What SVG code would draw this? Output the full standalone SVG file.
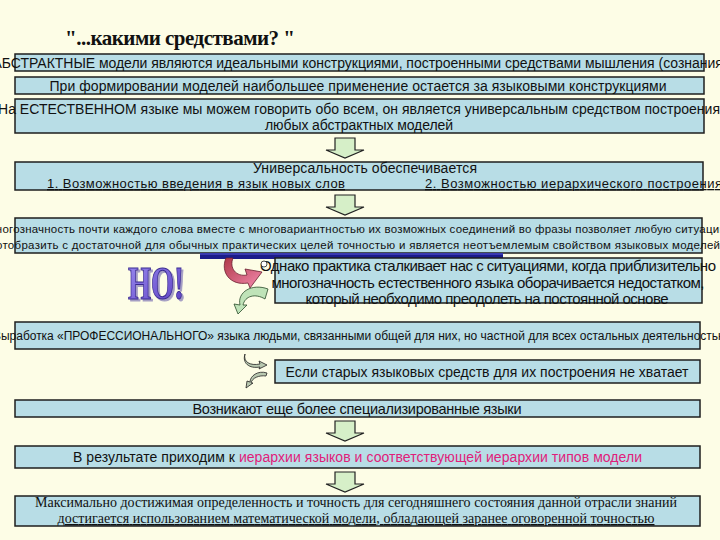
<svg xmlns="http://www.w3.org/2000/svg" xmlns:xlink="http://www.w3.org/1999/xlink" width="720" height="540" viewBox="0 0 720 540">
<style>
.box{fill:#b8dde6;stroke:#1e1e1e;stroke-width:1.5}
.t{font-family:"Liberation Sans",Arial,sans-serif;fill:#111}
.s{font-family:"Liberation Serif","Times New Roman",serif;fill:#111}
.arr{fill:#d6efc8;stroke:#222;stroke-width:1.2}
</style>
<defs>
<path id="darrow" d="M-10,0 H10 V12 H19 L0,20 L-19,12 H-10 Z"/>
<linearGradient id="noG" x1="0" y1="0" x2="1" y2="1">
<stop offset="0" stop-color="#9a8cf0"/><stop offset="1" stop-color="#5a3cc0"/>
</linearGradient>
<linearGradient id="redG" x1="0" y1="0" x2="1" y2="1">
<stop offset="0" stop-color="#b03848"/><stop offset="1" stop-color="#f48cb0"/>
</linearGradient>
<filter id="sh" x="-20%" y="-20%" width="140%" height="140%">
<feDropShadow dx="2" dy="2" stdDeviation="0.6" flood-color="#4a3aa0" flood-opacity="0.5"/>
</filter>
</defs>
<rect width="720" height="540" fill="#fdfde6"/>

<g id="title"><text class="s" x="180" y="45" font-size="21" font-weight="bold" text-anchor="middle" textLength="230">"...какими средствами? "</text></g>

<g id="n1"><rect class="box" x="15" y="54" width="689" height="17"/>
<text class="t" x="360" y="68" font-size="14" text-anchor="middle" textLength="735">АБСТРАКТНЫЕ модели являются идеальными конструкциями, построенными средствами мышления (сознания)</text></g>

<g id="n2"><rect class="box" x="15" y="77" width="689" height="17"/>
<text class="t" x="358" y="91" font-size="14" text-anchor="middle" textLength="617">При формировании моделей наибольшее применение остается за языковыми конструкциями</text></g>

<g id="n3"><rect class="box" x="15" y="99" width="689" height="34"/>
<text class="t" x="359" y="114" font-size="14" text-anchor="middle" textLength="722">На ЕСТЕСТВЕННОМ языке мы можем говорить обо всем, он является универсальным средством построения</text>
<text class="t" x="359" y="130" font-size="14" text-anchor="middle" textLength="188">любых абстрактных моделей</text></g>

<g id="n4"><rect class="box" x="15" y="162" width="688" height="28"/>
<text class="t" x="365" y="173" font-size="14" text-anchor="middle" textLength="224">Универсальность обеспечивается</text>
<text class="t" x="47" y="188" font-size="13" text-decoration="underline" textLength="298">1. Возможностью введения в язык новых слов</text>
<text class="t" x="425" y="188" font-size="13" text-decoration="underline" textLength="297">2. Возможностью иерархического построения</text></g>

<g id="n5"><rect class="box" x="15" y="218" width="687" height="35"/>
<text class="t" x="357" y="233" font-size="11.5" text-anchor="middle" textLength="742">Многозначность почти каждого слова вместе с многовариантностью их возможных соединений во фразы позволяет любую ситуацию</text>
<text class="t" x="358" y="249" font-size="11.5" text-anchor="middle" textLength="724">отобразить с достаточной для обычных практических целей точностью и является  неотъемлемым свойством языковых моделей</text></g>

<g id="bar"><rect x="200" y="253" width="303" height="6" fill="#1c1c8a"/><rect x="200" y="253" width="303" height="2" fill="#3a3ab0"/></g>

<g id="n6"><rect class="box" x="275" y="258" width="427" height="45"/>
<text class="t" x="488" y="271" font-size="15" text-anchor="middle" textLength="456">Однако практика сталкивает нас с ситуациями, когда приблизительно</text>
<text class="t" x="488" y="288" font-size="15" text-anchor="middle" textLength="433">многозначность естественного языка оборачивается недостатком,</text>
<text class="t" x="487" y="304" font-size="15" text-anchor="middle" textLength="363">который необходимо преодолеть на постоянной основе</text></g>

<g id="no"><text x="128" y="299" font-family="'Liberation Serif',serif" font-weight="bold" font-size="46" fill="url(#noG)" stroke="#3a2a90" stroke-width="1" textLength="56" lengthAdjust="spacingAndGlyphs" filter="url(#sh)">НО!</text></g>

<g id="n7"><rect class="box" x="15" y="322" width="685" height="27"/>
<text class="t" x="360" y="340" font-size="12" text-anchor="middle" textLength="734">Выработка «ПРОФЕССИОНАЛЬНОГО» языка людьми, связанными общей для них, но частной для всех остальных деятельностью</text></g>

<g id="n8"><rect class="box" x="275" y="360" width="425" height="23"/>
<text class="t" x="487" y="377" font-size="14" text-anchor="middle" textLength="403">Если старых языковых средств для их построения не хватает</text></g>

<g id="n9"><rect class="box" x="15" y="400" width="685" height="17"/>
<text class="t" x="357" y="414" font-size="14.5" text-anchor="middle" textLength="329">Возникают еще более специализированные языки</text></g>

<g id="n10"><rect class="box" x="15" y="446" width="685" height="22"/>
<text class="t" x="73" y="462" font-size="14" textLength="569">В результате приходим к <tspan fill="#e0207a">иерархии языков и соответствующей иерархии типов модели</tspan></text></g>

<g id="n11"><rect class="box" x="15" y="496" width="685" height="30"/>
<text class="s" x="356" y="507" font-size="14" text-anchor="middle" textLength="642">Максимально достижимая определенность и точность для сегодняшнего состояния данной отрасли знаний</text>
<text class="s" x="356" y="523" font-size="14" text-anchor="middle" text-decoration="underline" textLength="597">достигается использованием математической модели, обладающей заранее оговоренной точностью</text></g>

<g id="connectors">
<use xlink:href="#darrow" class="arr" x="345" y="138"/>
<use xlink:href="#darrow" class="arr" x="345" y="195"/>
<use xlink:href="#darrow" class="arr" x="345" y="421"/>
<use xlink:href="#darrow" class="arr" x="345" y="472"/>
<path d="M226,258 C220,272 230,286 248,283 L250,288 L262,272 L245,269 L247,275 C236,277 229,268 233,258 Z" fill="url(#redG)" stroke="#6a2030" stroke-width="0.8"/>
<circle cx="264" cy="264" r="3" fill="#fff" stroke="#222" stroke-width="0.8"/>
<path d="M268,289 C252,283 237,292 240,305 L234,304 L238,314 L247,305 L243,305 C245,296 255,293 265,299 Z" fill="#bfe3b8" stroke="#2a4a2a" stroke-width="0.8"/>
<path d="M245,354 C243,362 250,366 260,364 L259,361 L267,365 L259,369 L260,367 C249,369 242,363 245,354 Z" fill="#b8c8b0" stroke="#222" stroke-width="0.8"/>
<path d="M267,373 C258,370 250,376 250,382 L247,381 L246,388 L253,383 L251,383 C252,378 259,375 266,376 Z" fill="#b8c8b0" stroke="#222" stroke-width="0.8"/>
</g>
</svg>
